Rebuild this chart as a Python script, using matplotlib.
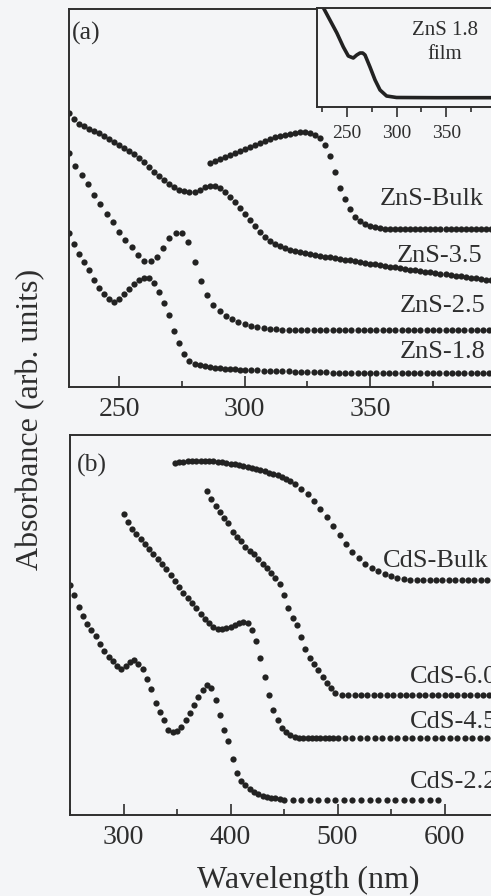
import matplotlib
matplotlib.use("Agg")
import matplotlib.pyplot as plt
from matplotlib.ticker import MultipleLocator

plt.rcParams['font.family'] = ['Liberation Serif', 'DejaVu Serif']

W, H = 491, 896
BG = '#f4f5f7'
INK = '#222222'
TXT = '#2e2e2e'

# ---------------- panel (a): ZnS ----------------
wl_zns35 = [230, 232, 234, 236, 238, 240, 242, 244, 246, 248, 250, 252, 254, 256, 258, 260,
            262, 264, 266, 268, 270, 272, 274, 276, 278, 280, 282, 284, 286, 288, 290, 292,
            294, 296, 298, 300, 302, 304, 306, 308, 310, 312, 314, 316, 318, 320, 322, 324,
            326, 328, 330, 332, 334, 336, 338, 340, 342, 344, 346, 348, 350, 352, 354, 356,
            358, 360, 362, 364, 366, 368, 370, 372, 374, 376, 378, 380, 382, 384, 386, 388,
            390, 392, 394, 396, 398, 400]
abs_zns35 = [2.74, 2.68, 2.63, 2.61, 2.58, 2.56, 2.54, 2.51, 2.48, 2.45, 2.42, 2.39, 2.36, 2.33,
             2.29, 2.25, 2.20, 2.15, 2.11, 2.07, 2.03, 2.00, 1.97, 1.96, 1.95, 1.95, 1.97, 2.00,
             2.01, 2.01, 1.99, 1.95, 1.90, 1.85, 1.79, 1.73, 1.67, 1.61, 1.55, 1.50, 1.46, 1.43,
             1.41, 1.39, 1.37, 1.36, 1.35, 1.34, 1.33, 1.32, 1.31, 1.30, 1.30, 1.29, 1.28, 1.27,
             1.27, 1.26, 1.25, 1.24, 1.23, 1.23, 1.22, 1.21, 1.20, 1.20, 1.19, 1.18, 1.17, 1.17,
             1.16, 1.15, 1.15, 1.14, 1.13, 1.13, 1.12, 1.11, 1.11, 1.10, 1.09, 1.09, 1.08, 1.07,
             1.07, 1.06]

wl_znsbulk = [286, 288, 290, 292, 294, 296, 298, 300, 302, 304, 306, 308, 310, 312, 314, 316,
              318, 320, 322, 324, 326, 328, 330, 332, 334, 336, 338, 340, 342, 344, 346, 348,
              350, 352, 354, 356, 358, 360, 362, 364, 366, 368, 370, 372, 374, 376, 378, 380,
              382, 384, 386, 388, 390, 392, 394, 396, 398, 400]
abs_znsbulk = [2.24, 2.26, 2.28, 2.30, 2.32, 2.34, 2.36, 2.38, 2.40, 2.42, 2.44, 2.46, 2.48, 2.50,
               2.51, 2.52, 2.53, 2.54, 2.55, 2.55, 2.54, 2.52, 2.49, 2.42, 2.31, 2.15, 1.99, 1.88,
               1.78, 1.70, 1.66, 1.63, 1.61, 1.60, 1.59, 1.58, 1.58, 1.58, 1.58, 1.58, 1.58, 1.58,
               1.58, 1.58, 1.58, 1.58, 1.58, 1.58, 1.58, 1.58, 1.58, 1.58, 1.58, 1.58, 1.58, 1.58,
               1.58, 1.58]

wl_zns25 = [230, 232.5, 235, 237.5, 240, 242.5, 245, 247.5, 250, 252.5, 255, 257.5, 260, 262.5,
            265, 267.5, 270, 272.5, 275, 277.5, 280, 282.5, 285, 287.5, 290, 292.5, 295, 297.5,
            300, 302.5, 305, 307.5, 310, 312.5, 315, 317.5, 320, 322.5, 325, 327.5, 330, 332.5,
            335, 337.5, 340, 342.5, 345, 347.5, 350, 352.5, 355, 357.5, 360, 362.5, 365, 367.5,
            370, 372.5, 375, 377.5, 380, 382.5, 385, 387.5, 390, 392.5, 395, 397.5, 400]
abs_zns25 = [2.34, 2.21, 2.12, 2.03, 1.92, 1.83, 1.73, 1.65, 1.55, 1.47, 1.40, 1.32, 1.26, 1.26,
             1.30, 1.39, 1.49, 1.54, 1.54, 1.45, 1.25, 1.06, 0.92, 0.82, 0.76, 0.71, 0.68, 0.65,
             0.63, 0.61, 0.60, 0.59, 0.58, 0.58, 0.57, 0.57, 0.57, 0.57, 0.57, 0.57, 0.57, 0.57,
             0.57, 0.57, 0.57, 0.57, 0.57, 0.57, 0.57, 0.57, 0.57, 0.57, 0.57, 0.57, 0.57, 0.57,
             0.57, 0.57, 0.57, 0.57, 0.57, 0.57, 0.57, 0.57, 0.57, 0.57, 0.57, 0.57, 0.57]

wl_zns18 = [230, 232, 234, 236, 238, 240, 242, 244, 246, 248, 250, 252, 254, 256, 258, 260,
            262, 264, 266, 268, 270, 272, 274, 276, 278, 280, 282, 284, 286, 288, 290, 292,
            294, 296, 298, 300, 302.5, 305, 307.5, 310, 312.5, 315, 317.5, 320, 322.5, 325,
            327.5, 330, 332.5, 335, 337.5, 340, 342.5, 345, 347.5, 350, 352.5, 355, 357.5, 360,
            362.5, 365, 367.5, 370, 372.5, 375, 377.5, 380, 382.5, 385, 387.5, 390, 392.5, 395,
            397.5, 400]
abs_zns18 = [1.54, 1.43, 1.33, 1.25, 1.17, 1.07, 0.99, 0.93, 0.88, 0.85, 0.88, 0.93, 0.98, 1.03,
             1.07, 1.09, 1.09, 1.04, 0.95, 0.84, 0.72, 0.56, 0.44, 0.33, 0.26, 0.23, 0.215, 0.205,
             0.20, 0.19, 0.185, 0.18, 0.18, 0.175, 0.17, 0.17, 0.165, 0.165, 0.16, 0.16, 0.16,
             0.155, 0.155, 0.15, 0.15, 0.15, 0.145, 0.145, 0.145, 0.14, 0.14, 0.14, 0.14, 0.14,
             0.14, 0.14, 0.14, 0.14, 0.14, 0.14, 0.14, 0.14, 0.14, 0.14, 0.14, 0.14, 0.14, 0.14,
             0.14, 0.14, 0.14, 0.14, 0.14, 0.14, 0.14, 0.14]

# inset: ZnS 1.8 film (continuous line)
wl_film = [224, 226, 233, 240, 246.5, 251.5, 256.5, 260, 263.3, 266, 268.3, 273.3, 278.4,
           283.4, 290, 300, 340, 400]
abs_film = [1.04, 1.00, 0.87, 0.74, 0.60, 0.51, 0.49, 0.52, 0.54, 0.54, 0.52, 0.40, 0.27,
            0.17, 0.11, 0.095, 0.093, 0.093]

# ---------------- panel (b): CdS ----------------
wl_cdsbulk = [348, 352, 356, 360, 364, 368, 372, 376, 380, 384, 388, 392, 396, 400, 404, 408,
              412, 416, 420, 424, 428, 432, 436, 440, 444, 448, 452, 456, 460, 466, 472, 478,
              484, 490, 496, 502, 508, 514, 520, 526, 532, 538, 544, 550, 556, 562, 568, 574,
              580, 586, 592, 598, 604, 610, 616, 622, 628, 634, 640, 646]
abs_cdsbulk = [3.52, 3.53, 3.53, 3.54, 3.54, 3.54, 3.54, 3.54, 3.54, 3.54, 3.53, 3.53, 3.52,
               3.51, 3.51, 3.50, 3.49, 3.48, 3.47, 3.46, 3.45, 3.44, 3.42, 3.41, 3.40, 3.38,
               3.36, 3.34, 3.31, 3.26, 3.21, 3.14, 3.06, 2.98, 2.89, 2.80, 2.71, 2.63, 2.57,
               2.51, 2.47, 2.44, 2.41, 2.39, 2.37, 2.36, 2.35, 2.35, 2.35, 2.35, 2.35, 2.35,
               2.35, 2.35, 2.35, 2.35, 2.35, 2.35, 2.35, 2.35]

wl_cds60 = [378, 382, 386, 390, 394, 398, 402, 406, 410, 414, 418, 422, 426, 430, 434, 438,
            442, 446, 450, 454, 458, 462, 466, 470, 474, 478, 482, 486, 490, 494, 498, 504,
            510, 516, 522, 528, 534, 540, 546, 552, 558, 564, 570, 576, 582, 588, 594, 600,
            606, 612, 618, 624, 630, 636, 642, 648]
abs_cds60 = [3.24, 3.16, 3.09, 3.03, 2.97, 2.92, 2.83, 2.78, 2.74, 2.68, 2.64, 2.61, 2.56, 2.51,
             2.47, 2.42, 2.37, 2.31, 2.20, 2.07, 1.97, 1.90, 1.78, 1.66, 1.57, 1.51, 1.45, 1.38,
             1.32, 1.27, 1.22, 1.20, 1.20, 1.20, 1.20, 1.20, 1.20, 1.20, 1.20, 1.20, 1.20, 1.20,
             1.20, 1.20, 1.20, 1.20, 1.20, 1.20, 1.20, 1.20, 1.20, 1.20, 1.20, 1.20, 1.20, 1.20]

wl_cds45 = [300, 304, 308, 312, 316, 320, 324, 328, 332, 336, 340, 344, 348, 352, 356, 360,
            364, 368, 372, 376, 380, 384, 388, 392, 396, 400, 404, 408, 412, 416, 420, 424,
            428, 432, 436, 440, 444, 448, 452, 456, 460, 464, 468, 472, 476, 480, 484, 488,
            492, 496, 500, 507, 514, 521, 528, 535, 542, 549, 556, 563, 570, 577, 584, 591,
            598, 605, 612, 619, 626, 633, 640, 647]
abs_cds45 = [3.01, 2.93, 2.86, 2.81, 2.76, 2.71, 2.66, 2.61, 2.56, 2.51, 2.46, 2.40, 2.34, 2.28,
             2.22, 2.17, 2.12, 2.07, 2.01, 1.96, 1.92, 1.88, 1.86, 1.86, 1.87, 1.88, 1.90, 1.92,
             1.93, 1.92, 1.85, 1.74, 1.57, 1.38, 1.20, 1.05, 0.95, 0.87, 0.83, 0.80, 0.78, 0.77,
             0.77, 0.77, 0.77, 0.77, 0.77, 0.77, 0.77, 0.77, 0.77, 0.77, 0.77, 0.77, 0.77, 0.77,
             0.77, 0.77, 0.77, 0.77, 0.77, 0.77, 0.77, 0.77, 0.77, 0.77, 0.77, 0.77, 0.77, 0.77,
             0.77, 0.77]

wl_cds22 = [250, 254, 258, 262, 266, 270, 274, 278, 282, 286, 290, 294, 298, 302, 306, 310,
            314, 318, 322, 326, 330, 334, 338, 342, 346, 350, 354, 358, 362, 366, 370, 374,
            378, 382, 386, 390, 394, 398, 402, 406, 410, 414, 418, 422, 426, 430, 434, 438,
            442, 446, 450, 458, 466, 474, 482, 490, 498, 506, 514, 522, 530, 538, 546, 554,
            562, 570, 578, 586, 594]
abs_cds22 = [2.30, 2.20, 2.08, 1.99, 1.91, 1.85, 1.79, 1.71, 1.64, 1.58, 1.54, 1.49, 1.46, 1.49,
             1.53, 1.55, 1.51, 1.46, 1.36, 1.26, 1.12, 1.03, 0.95, 0.85, 0.83, 0.84, 0.88, 0.95,
             1.02, 1.10, 1.18, 1.25, 1.30, 1.27, 1.15, 1.00, 0.85, 0.74, 0.56, 0.42, 0.34, 0.30,
             0.26, 0.23, 0.21, 0.19, 0.18, 0.175, 0.17, 0.16, 0.155, 0.15, 0.15, 0.15, 0.15, 0.15,
             0.15, 0.15, 0.15, 0.15, 0.15, 0.15, 0.15, 0.15, 0.15, 0.15, 0.15, 0.15, 0.15]

labels_a = ['ZnS-Bulk', 'ZnS-3.5', 'ZnS-2.5', 'ZnS-1.8']
labels_b = ['CdS-Bulk', 'CdS-6.0', 'CdS-4.5', 'CdS-2.2']
ticks_a = [250, 300, 350]
ticks_b = [300, 400, 500, 600]
ticks_in = [250, 300, 350]


def fx(px):
    return px / W


def fy(py):
    return 1 - py / H


fig = plt.figure(figsize=(W / 100, H / 100), dpi=100, facecolor=BG)


def style(ax, minor, ticks, direction, lmaj, lmin, lsize, pad):
    ax.set_facecolor(BG)
    for s in ax.spines.values():
        s.set_linewidth(1.4)
        s.set_color(TXT)
    ax.set_xticks(ticks)
    ax.xaxis.set_minor_locator(MultipleLocator(minor))
    ax.tick_params(axis='x', which='major', direction=direction, length=lmaj, width=1.2,
                   colors=TXT, labelsize=lsize, pad=pad, top=False)
    ax.tick_params(axis='x', which='minor', direction=direction, length=lmin, width=1.2,
                   colors=TXT, top=False)
    ax.tick_params(axis='y', which='both', left=False, right=False, labelleft=False)


MS = 4.5

# panel (a)
axa = fig.add_axes([fx(69), fy(387), (410 - 230) * 2.51 / W, (387 - 9) / H])
axa.set_xlim(230, 410)
axa.set_ylim(0, 3.78)
style(axa, 25, ticks_a, 'in', 8, 4.5, 20, 7)
for wl, ab in [(wl_znsbulk, abs_znsbulk), (wl_zns35, abs_zns35),
               (wl_zns25, abs_zns25), (wl_zns18, abs_zns18)]:
    axa.plot(wl, ab, 'o', color=INK, markersize=MS, markeredgewidth=0)

# inset
axi = fig.add_axes([fx(317), fy(107), (410 - 220) * 0.994 / W, (107 - 8) / H])
axi.set_xlim(220, 410)
axi.set_ylim(0, 0.99)
style(axi, 25, ticks_in, 'out', 7.5, 3.8, 14, 5.5)
axi.plot(wl_film, abs_film, '-', color=INK, linewidth=2.6)
axi.text(348.8, 0.77, 'ZnS 1.8', ha='center', va='center', fontsize=15, color=TXT)
axi.text(348.8, 0.53, 'film', ha='center', va='center', fontsize=15, color=TXT)

# panel (b)
axb = fig.add_axes([fx(70), fy(815), (700 - 250) * 1.07 / W, (815 - 435) / H])
axb.set_xlim(250, 700)
axb.set_ylim(0, 3.80)
style(axb, 50, ticks_b, 'in', 8, 4.5, 20, 7)
for wl, ab in [(wl_cdsbulk, abs_cdsbulk), (wl_cds60, abs_cds60),
               (wl_cds45, abs_cds45), (wl_cds22, abs_cds22)]:
    axb.plot(wl, ab, 'o', color=INK, markersize=MS, markeredgewidth=0)

# curve labels (left edge, baseline in pixels); the scan crops them at the right edge
pos_a = [(380, 205), (397, 262), (400, 312), (400, 358)]
pos_b = [(383, 567), (410, 683), (410, 728), (410, 788)]
for lab, (x, y) in zip(labels_a + labels_b, pos_a + pos_b):
    fig.text(fx(x), fy(y), lab, ha='left', va='baseline', fontsize=19, color=TXT)

fig.text(fx(72), fy(33), '(a)', ha='left', va='center', fontsize=18.5, color=TXT)
fig.text(fx(77), fy(465), '(b)', ha='left', va='center', fontsize=18.5, color=TXT)

fig.text(fx(31), fy(419.5), 'Absorbance (arb. units)', rotation=90, ha='center',
         va='center', fontsize=23, color=TXT)
fig.text(fx(308), fy(888), 'Wavelength (nm)', ha='center', va='baseline',
         fontsize=23, color=TXT)

fig.savefig('out.png', dpi=100, facecolor=BG)
